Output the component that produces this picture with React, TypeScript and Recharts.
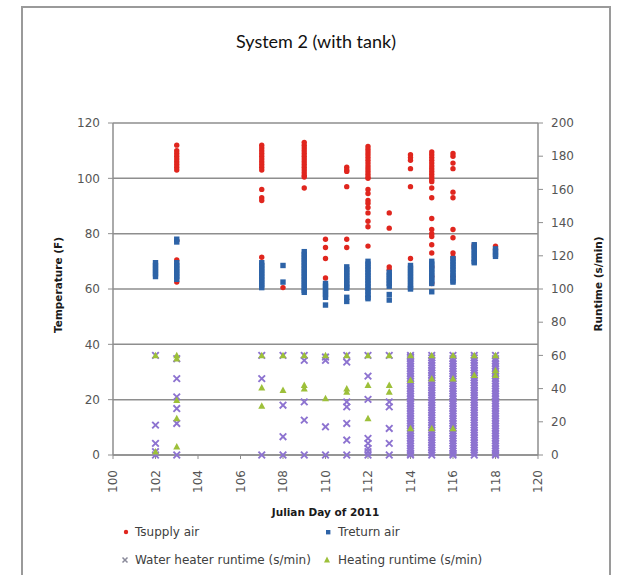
import React from "react";
import {
  ScatterChart,
  Scatter,
  XAxis,
  YAxis,
  CartesianGrid,
  Legend,
  Label,
} from "recharts";

// Julian day ticks and axis ticks
const dayTicks = [100, 102, 104, 106, 108, 110, 112, 114, 116, 118, 120];
const tempTicks = [0, 20, 40, 60, 80, 100, 120];
const runtimeTicks = [0, 20, 40, 60, 80, 100, 120, 140, 160, 180, 200];

// [day, readings]
const supplyAir: [number, number[]][] = [
  [103, [112, 110, 109, 108, 107, 106, 105, 104, 103, 77.5, 70.5, 62.5]],
  [107, [112, 111, 110, 109, 108, 107, 106, 105, 104, 103, 96, 93, 92, 71.5]],
  [108, [60.5]],
  [109, [113, 112, 111, 110, 109, 108, 107, 106, 105, 104, 103, 102, 101, 100.5, 96.5]],
  [110, [78, 75, 71, 64]],
  [111, [104, 103, 102.5, 97, 78, 75]],
  [112, [111.5, 110.5, 109.5, 108.5, 107.5, 106.5, 105.5, 104.5, 103.5, 102.5, 101.5, 100.5, 100, 96, 94.5, 92, 91, 89.5, 87.5, 84.5, 82.5, 75.5]],
  [113, [87.5, 82, 68, 67]],
  [114, [108.5, 107.5, 106.5, 103.5, 97, 71]],
  [115, [109.5, 108.5, 107.5, 106.5, 105.5, 104.5, 103.5, 102.5, 101.5, 100.5, 99.5, 98.8, 96.5, 93, 85.5, 81.5, 80, 79, 76, 73, 68, 64.5, 62]],
  [116, [109, 108, 105.5, 103.5, 95, 93, 81.5, 78.5, 73, 71.5, 64.5]],
  [117, [76, 75]],
  [118, [75.5, 74.5]],
];

const returnAir: [number, number[]][] = [
  [102, [69.5, 68.5, 67.5, 66.5, 65.5, 64.5]],
  [103, [78, 77, 69.5, 68.5, 67.5, 66.5, 65.5, 64.5, 63.5]],
  [107, [69.5, 68.5, 67.5, 66.5, 65.5, 64.5, 63.5, 62.5, 61.5, 60.5]],
  [108, [68.5, 62.5]],
  [109, [73.5, 72.5, 71.5, 70.5, 69.5, 68.5, 67.5, 66.5, 65.5, 64.5, 63.5, 62.5, 61.5, 60.5, 59.5, 58.8]],
  [110, [62, 61, 60, 59, 58, 57, 54.2]],
  [111, [68, 67, 66, 65, 64, 63, 62, 61, 60.3, 57, 55.5]],
  [112, [70, 69, 68, 67, 66, 65, 64, 63, 62, 61, 60, 59, 58, 57, 56.5]],
  [113, [66, 65, 64, 63, 62, 61, 58, 56]],
  [114, [68.5, 67.5, 66.5, 65.5, 64.5, 63.5, 62.5, 61.5, 60.5, 60]],
  [115, [70, 69, 68, 67, 66, 65, 64, 63, 62, 59]],
  [116, [71, 70, 69, 68, 67, 66, 65, 64, 63, 62.5]],
  [117, [76, 75, 74, 73, 72, 71, 70, 69.5]],
  [118, [74.5, 73.5, 72.5, 71.8]],
];

const waterHeater: [number, number[]][] = [
  [102, [60, 18, 7, 2, 0]],
  [103, [58, 46, 35, 28, 19, 0]],
  [107, [60, 46, 0]],
  [108, [60, 30, 11, 0]],
  [109, [60, 57, 32, 21, 0]],
  [110, [59, 57, 17, 0]],
  [111, [60, 56, 32, 29, 19, 9, 0]],
  [112, [60, 47.5, 33.5, 10, 7, 4, 2, 0]],
  [113, [60, 32, 29, 16, 7, 0]],
  [114, [0, 1, 2.5, 4, 5.5, 7, 8.5, 10, 11.5, 13, 14.5, 16, 17.5, 19, 20.5, 22, 23.5, 25, 26.5, 28, 29.5, 31, 32.5, 34, 35.5, 37, 38.5, 40, 41.5, 43, 44.5, 46, 47.5, 49, 50.5, 52, 53.5, 55, 56.5, 58, 59, 60]],
  [115, [0, 1.5, 3, 4.5, 6, 7.5, 9, 10.5, 12, 13.5, 15, 16.5, 18, 19.5, 21, 22.5, 24, 25.5, 27, 28.5, 30, 31.5, 33, 34.5, 36, 37.5, 39, 40.5, 42, 43.5, 45, 46.5, 48, 49.5, 51, 52.5, 54, 55.5, 57, 58.5, 60]],
  [116, [0, 1, 2.5, 4, 5.5, 7, 8.5, 10, 11.5, 13, 14.5, 16, 17.5, 19, 20.5, 22, 23.5, 25, 26.5, 28, 29.5, 31, 32.5, 34, 35.5, 37, 38.5, 40, 41.5, 43, 44.5, 46, 47.5, 49, 50.5, 52, 53.5, 55, 56.5, 58, 60]],
  [117, [0, 1.5, 3, 4.5, 6, 7.5, 9, 10.5, 12, 13.5, 15, 16.5, 18, 19.5, 21, 22.5, 24, 25.5, 27, 28.5, 30, 31.5, 33, 34.5, 36, 37.5, 39, 40.5, 42, 43.5, 45, 46.5, 48, 49.5, 51, 52.5, 54, 55.5, 57, 58.5, 60]],
  [118, [0, 1, 2.5, 4, 5.5, 7, 8.5, 10, 11.5, 13, 14.5, 16, 17.5, 19, 20.5, 22, 23.5, 25, 26.5, 28, 29.5, 31, 32.5, 34, 35.5, 37, 38.5, 40, 41.5, 43, 44.5, 46, 47.5, 49, 50.5, 52, 53.5, 55, 56.5, 58, 60]],
];

const heating: [number, number[]][] = [
  [102, [60, 2]],
  [103, [60, 58, 33, 22, 5]],
  [107, [60, 40.5, 29.5]],
  [108, [60, 39]],
  [109, [60, 42, 40]],
  [110, [60, 34]],
  [111, [60, 40, 38]],
  [112, [60, 42, 22]],
  [113, [60, 42, 38]],
  [114, [60, 45, 16]],
  [115, [60, 46, 16]],
  [116, [60, 46, 16]],
  [117, [60, 48]],
  [118, [60, 51, 48]],
];

const toPoints = (groups: [number, number[]][]) =>
  groups.flatMap(([day, vals]) => vals.map((value) => ({ day, value })));

const RED = "#e0261e";
const BLUE = "#2d63a7";
const PURPLE = "#8d73d0";
const GREEN = "#9dc03a";
const GRID = "#8e8e8e";
const TICK = "#555555";
const FONT = "DejaVu Sans";

const Dot = (p: any) => <circle cx={p.cx} cy={p.cy} r={2.7} fill={RED} />;
const Square = (p: any) => (
  <rect x={p.cx - 2.7} y={p.cy - 2.7} width={5.4} height={5.4} fill={BLUE} />
);
const Cross = (p: any) => (
  <path
    d={`M${p.cx - 3.3},${p.cy - 3.3}L${p.cx + 3.3},${p.cy + 3.3}M${p.cx - 3.3},${p.cy + 3.3}L${p.cx + 3.3},${p.cy - 3.3}`}
    stroke={PURPLE}
    strokeWidth={1.9}
  />
);
const Tri = (p: any) => (
  <path
    d={`M${p.cx},${p.cy - 3.7}L${p.cx + 3.5},${p.cy + 2.8}L${p.cx - 3.5},${p.cy + 2.8}Z`}
    fill={GREEN}
  />
);

const DayTick = ({ x, y, payload }: any) => (
  <g transform={`translate(${x},${y})`}>
    <text
      transform="rotate(-90)"
      x={-9}
      y={0}
      dy={4}
      textAnchor="end"
      fill={TICK}
      fontSize={12}
      fontFamily={FONT}
    >
      {payload.value}
    </text>
  </g>
);

const axisTitle = (text: string, dx: number, dy: number, rotate: boolean) =>
  ({ viewBox }: any) => {
    const vb = viewBox || { x: 0, y: 0, width: 0, height: 0 };
    const cx = vb.x + dx;
    const cy = rotate ? vb.y + vb.height / 2 + dy : vb.y + dy;
    return (
      <text
        x={cx}
        y={cy}
        transform={rotate ? `rotate(-90 ${cx} ${cy})` : undefined}
        textAnchor="middle"
        dominantBaseline="central"
        fontSize={10.5}
        fontWeight="bold"
        fontFamily={FONT}
        fill="#1a1a1a"
      >
        {text}
      </text>
    );
  };

const LegendBox = () => {
  const txt = { fontSize: 12, fontFamily: FONT, fill: "#404040" };
  return (
    <svg width={618} height={56}>
      <circle cx={126} cy={14} r={2.2} fill={RED} />
      <text x={135} y={14} dominantBaseline="central" {...txt}>Tsupply air</text>
      <rect x={326} y={12} width={4.4} height={4.4} fill={BLUE} />
      <text x={338} y={14} dominantBaseline="central" {...txt}>Treturn air</text>
      <path d="M122.5,39.5L127.5,44.5M122.5,44.5L127.5,39.5" stroke="#8a8a9a" strokeWidth={1.5} />
      <text x={135} y={42} dominantBaseline="central" {...txt}>Water heater runtime (s/min)</text>
      <path d="M327,38.5L330,44.5L324,44.5Z" fill={GREEN} />
      <text x={338} y={42} dominantBaseline="central" {...txt}>Heating runtime (s/min)</text>
    </svg>
  );
};

export default function App() {
  return (
    <div
      style={{
        position: "absolute",
        left: 0,
        top: 0,
        width: 618,
        height: 575,
        overflow: "hidden",
        background: "#fff",
      }}
    >
      <div
        style={{
          position: "absolute",
          left: 21,
          top: 6,
          width: 590,
          height: 600,
          border: "2px solid #9a9a9a",
          boxSizing: "border-box",
        }}
      />
      <div
        style={{
          position: "absolute",
          left: 22,
          top: 30,
          width: 588,
          textAlign: "center",
          fontFamily: "Lato",
          fontSize: 18,
          lineHeight: "22px",
          color: "#111",
        }}
      >
        System 2 (with tank)
      </div>
      <div style={{ position: "absolute", left: 0, top: 0 }}>
        <ScatterChart
          width={618}
          height={575}
          margin={{ top: 123, right: 30, bottom: 80, left: 53 }}
        >
          <CartesianGrid
            vertical={false}
            stroke={GRID}
            strokeWidth={1.5}
          />
          <XAxis
            type="number"
            dataKey="day"
            domain={[100, 120]}
            ticks={dayTicks}
            interval={0}
            height={40}
            axisLine={{ stroke: GRID, strokeWidth: 1.5 }}
            tickLine={{ stroke: GRID }}
            tickSize={4}
            tickMargin={2}
            tick={<DayTick />}
          >
            <Label content={axisTitle("Julian Day of 2011", 212.5, 57, false)} />
          </XAxis>
          <YAxis
            type="number"
            dataKey="value"
            domain={[0, 120]}
            ticks={tempTicks}
            interval={0}
            width={60}
            axisLine={{ stroke: GRID, strokeWidth: 1.5 }}
            tickLine={{ stroke: GRID }}
            tickSize={5}
            tickMargin={8}
            tick={{ fill: TICK, fontSize: 12, fontFamily: FONT }}
          >
            <Label content={axisTitle("Temperature (F)", 5, -4, true)} />
          </YAxis>
          <YAxis
            yAxisId="right"
            orientation="right"
            type="number"
            dataKey="value"
            domain={[0, 200]}
            ticks={runtimeTicks}
            interval={0}
            width={50}
            axisLine={{ stroke: GRID, strokeWidth: 1.5 }}
            tickLine={{ stroke: GRID }}
            tickSize={5}
            tickMargin={8}
            tick={{ fill: TICK, fontSize: 12, fontFamily: FONT }}
          >
            <Label content={axisTitle("Runtime (s/min)", 60, -5, true)} />
          </YAxis>
          <Scatter
            name="Tsupply air"
            data={toPoints(supplyAir)}
            shape={Dot}
            isAnimationActive={false}
          />
          <Scatter
            name="Treturn air"
            data={toPoints(returnAir)}
            shape={Square}
            isAnimationActive={false}
          />
          <Scatter
            name="Water heater runtime (s/min)"
            yAxisId="right"
            data={toPoints(waterHeater)}
            shape={Cross}
            isAnimationActive={false}
          />
          <Scatter
            name="Heating runtime (s/min)"
            yAxisId="right"
            data={toPoints(heating)}
            shape={Tri}
            isAnimationActive={false}
          />
          <Legend
            layout="horizontal"
            verticalAlign="middle"
            align="center"
            content={<LegendBox />}
            wrapperStyle={{ left: 0, top: 518, width: 618, height: 56 }}
          />
        </ScatterChart>
      </div>
    </div>
  );
}
